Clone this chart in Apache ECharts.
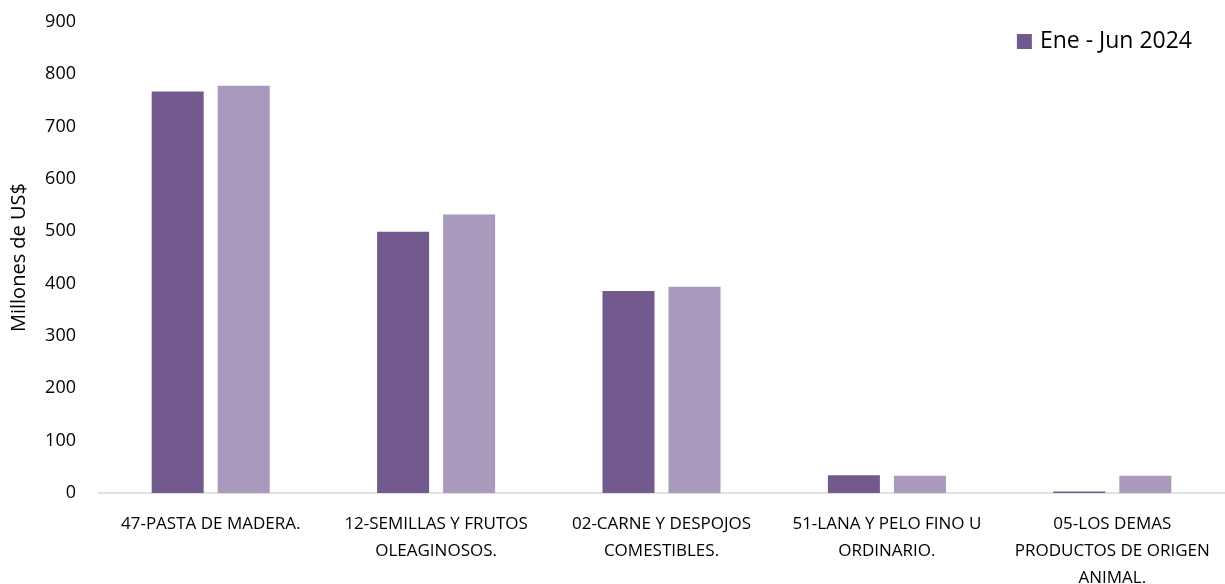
<!DOCTYPE html>
<html>
<head>
<meta charset="utf-8">
<script src="https://cdn.jsdelivr.net/npm/echarts@6/dist/echarts.min.js"></script>
<style>
  html, body { margin: 0; padding: 0; background: #fff; }
  #chart { width: 1225px; height: 584px; }
</style>
</head>
<body>
<div id="chart"></div>
<script>
  // categorias (capitulos)
  var categorias = [
    '47-PASTA DE MADERA.',
    '12-SEMILLAS Y FRUTOS\nOLEAGINOSOS.',
    '02-CARNE Y DESPOJOS\nCOMESTIBLES.',
    '51-LANA Y PELO FINO U\nORDINARIO.',
    '05-LOS DEMAS\nPRODUCTOS DE ORIGEN\nANIMAL.'
  ];
  var serie2024 = [767, 499, 386, 34, 3];
  var serie2025 = [778, 532, 394, 33, 33];

  var fuente = 'Open Sans';
  var chart = echarts.init(document.getElementById('chart'));
  chart.setOption({
    animation: false,
    textStyle: { fontFamily: fuente, color: '#000' },
    grid: { left: 98, right: 0, top: 22, bottom: 91, outerBoundsMode: 'none', containLabel: false },
    legend: {
      data: ['Ene - Jun 2024'],
      right: 28,
      top: 25,
      itemWidth: 15,
      itemHeight: 15,
      icon: 'rect',
      textStyle: { fontSize: 23, color: '#000', fontFamily: fuente, padding: [0, 0, 0, 3] }
    },
    xAxis: {
      type: 'category',
      data: categorias,
      axisLine: { lineStyle: { color: '#d9d9d9', width: 1.5 } },
      axisTick: { show: false },
      axisLabel: {
        interval: 0,
        fontSize: 17,
        lineHeight: 27,
        margin: 18,
        color: '#000',
        fontFamily: fuente
      }
    },
    yAxis: {
      type: 'value',
      min: 0,
      max: 900,
      interval: 100,
      name: 'Millones de US$',
      nameLocation: 'middle',
      nameGap: 69,
      nameTextStyle: { fontSize: 20, color: '#000', fontFamily: fuente },
      axisLine: { show: false },
      axisTick: { show: false },
      splitLine: { show: false },
      axisLabel: { fontSize: 18, color: '#000', margin: 22, fontFamily: fuente }
    },
    series: [
      {
        name: 'Ene - Jun 2024',
        type: 'bar',
        data: serie2024,
        barWidth: 52,
        barGap: '27%',
        itemStyle: { color: '#725a8f' }
      },
      {
        name: 'Ene - Jun 2025',
        type: 'bar',
        data: serie2025,
        barWidth: 52,
        itemStyle: { color: '#a99abd' }
      }
    ]
  });
</script>
</body>
</html>
